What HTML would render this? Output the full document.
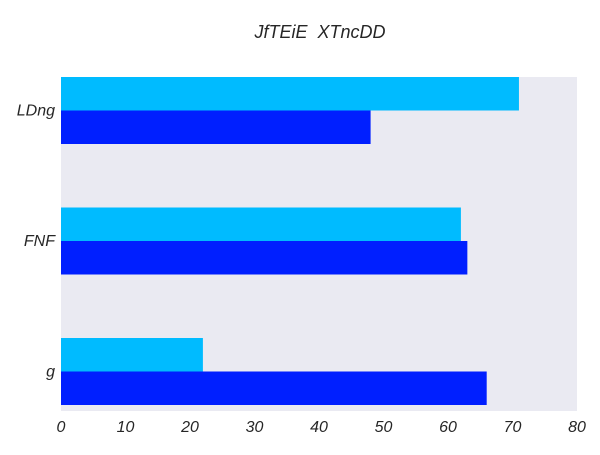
<!DOCTYPE html>
<html><head><meta charset="utf-8"><style>
body{margin:0;background:#fff;}
svg text{font-family:"Liberation Sans",sans-serif;font-style:italic;fill:#262626;white-space:pre;}
</style></head><body>
<svg width="600" height="450">
<text x="320" y="38" text-anchor="middle" font-size="18">JfTEiE  XTncDD</text>
<rect x="61" y="77" width="516" height="334" fill="#EAEAF2"/>
<g id="bars"></g>
<g id="yticks"></g>
<g id="xticks"></g>
</svg>
<script>
const categories=["LDng","FNF","g"];
const seriesA=[71,62,22];
const seriesB=[48,63,66];
const xTicks=[0,10,20,30,40,50,60,70,80];
const colorA="#00BBFF", colorB="#001FFF";
const x0=61,x1=577,y0=77,y1=411,xmax=80;
const xs=v=>x0+v/xmax*(x1-x0);
const band=130.5;
const bh=33.5;
const ns="http://www.w3.org/2000/svg";
const gb=document.getElementById('bars'),gy=document.getElementById('yticks'),gx=document.getElementById('xticks');
categories.forEach((c,i)=>{
 const cy=y0+bh+band*i;
 const a=document.createElementNS(ns,'rect');
 a.setAttribute('x',x0);a.setAttribute('y',cy-bh);a.setAttribute('width',xs(seriesA[i])-x0);a.setAttribute('height',bh);a.setAttribute('fill',colorA);
 
 
 gb.appendChild(a);
 const b=document.createElementNS(ns,'rect');
 b.setAttribute('x',x0);b.setAttribute('y',cy);b.setAttribute('width',xs(seriesB[i])-x0);b.setAttribute('height',bh);b.setAttribute('fill',colorB);
 
 
 gb.appendChild(b);
 const t=document.createElementNS(ns,'text');
 t.setAttribute('x',x0-6);t.setAttribute('y',cy+5);t.setAttribute('text-anchor','end');t.setAttribute('font-size','16');t.textContent=c;
 
 
 gy.appendChild(t);
});
xTicks.forEach(v=>{
 const t=document.createElementNS(ns,'text');
 t.setAttribute('x',xs(v));t.setAttribute('y',432);t.setAttribute('text-anchor','middle');t.setAttribute('font-size','16');t.textContent=v;
 
 
 gx.appendChild(t);
});
</script>
</body></html>
